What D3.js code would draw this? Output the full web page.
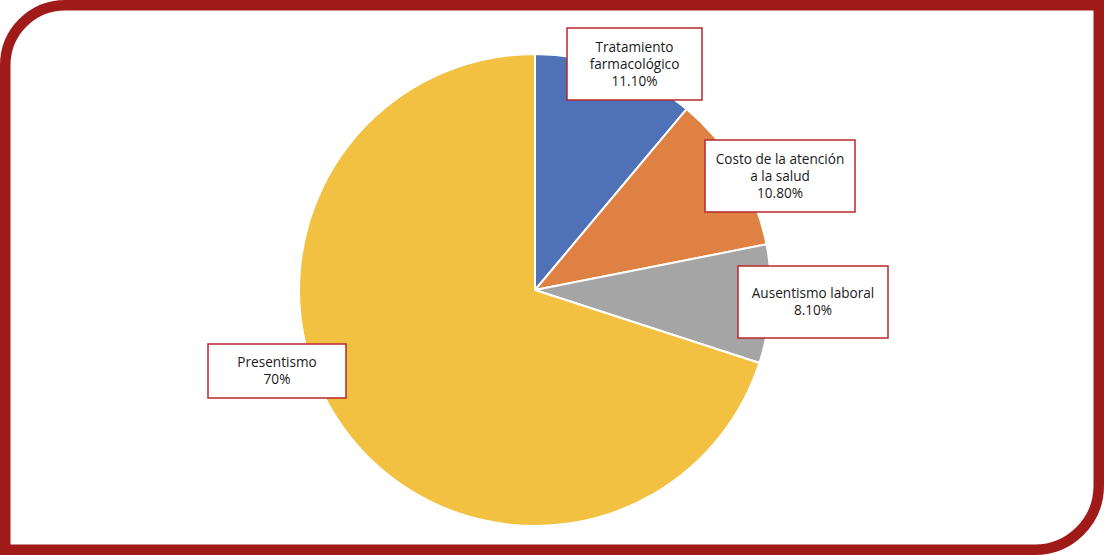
<!DOCTYPE html>
<html>
<head>
<meta charset="utf-8">
<script src="https://cdn.jsdelivr.net/npm/d3@7"></script>
<style>
html,body{margin:0;padding:0;background:#fff;}
svg{display:block;}
text{font-family:"Open Sans","Noto Sans",sans-serif;font-size:13.6px;fill:#1a1a1a;}
</style>
</head>
<body>
<svg id="chart" width="1104" height="555"></svg>
<script>
const categories = ["Tratamiento farmacológico", "Costo de la atención a la salud", "Ausentismo laboral", "Presentismo"];
const values = [11.1, 10.8, 8.1, 70];
const valueLabels = ["11.10%", "10.80%", "8.10%", "70%"];
const labelLines = [["Tratamiento", "farmacológico"], ["Costo de la atención", "a la salud"], ["Ausentismo laboral"], ["Presentismo"]];
const colors = ["#4E71B8", "#DE8142", "#A5A5A5", "#F2C142"];

const W = 1104, H = 555;
const svg = d3.select("#chart");

// frame
const sw = 10.5, h = sw / 2, r1 = 60, r2 = 64;
const frame = d3.path();
frame.moveTo(h, H);
frame.lineTo(h, h + r1);
frame.arcTo(h, h, h + r1, h, r1);
frame.lineTo(W - h, h);
frame.lineTo(W - h, H - h - r2);
frame.arcTo(W - h, H - h, W - h - r2, H - h, r2);
frame.lineTo(0, H - h);
svg.append("path").attr("d", frame.toString())
  .attr("fill", "none").attr("stroke", "#A11A1A").attr("stroke-width", sw);

// pie
const cx = 535, cy = 290, R = 236;
const pie = d3.pie().sort(null).value(d => d)(values);
const arc = d3.arc().innerRadius(0).outerRadius(R);
const g = svg.append("g").attr("transform", `translate(${cx},${cy})`);
g.selectAll("path").data(pie).enter().append("path")
  .attr("d", arc)
  .attr("fill", (d, i) => colors[i])
  .attr("stroke", "#fff").attr("stroke-width", 2);

// label boxes (layout)
const boxes = [
  {x: 567, y: 28, w: 135, h: 72},
  {x: 705, y: 140, w: 150, h: 72},
  {x: 738, y: 266, w: 150, h: 72},
  {x: 208, y: 344, w: 138, h: 54}
];
const lh = 17;
boxes.forEach((b, i) => {
  const lg = svg.append("g");
  lg.append("rect").attr("x", b.x).attr("y", b.y).attr("width", b.w).attr("height", b.h)
    .attr("fill", "#fff").attr("stroke", "#B7272C").attr("stroke-width", 1.5);
  const lines = labelLines[i].concat([valueLabels[i]]);
  const n = lines.length;
  const midY = b.y + b.h / 2;
  lines.forEach((t, k) => {
    lg.append("text").attr("x", b.x + b.w / 2)
      .attr("y", midY + (k - (n - 1) / 2) * lh)
      .attr("dy", "0.35em")
      .attr("text-anchor", "middle")
      .text(t);
  });
});
</script>
</body>
</html>
